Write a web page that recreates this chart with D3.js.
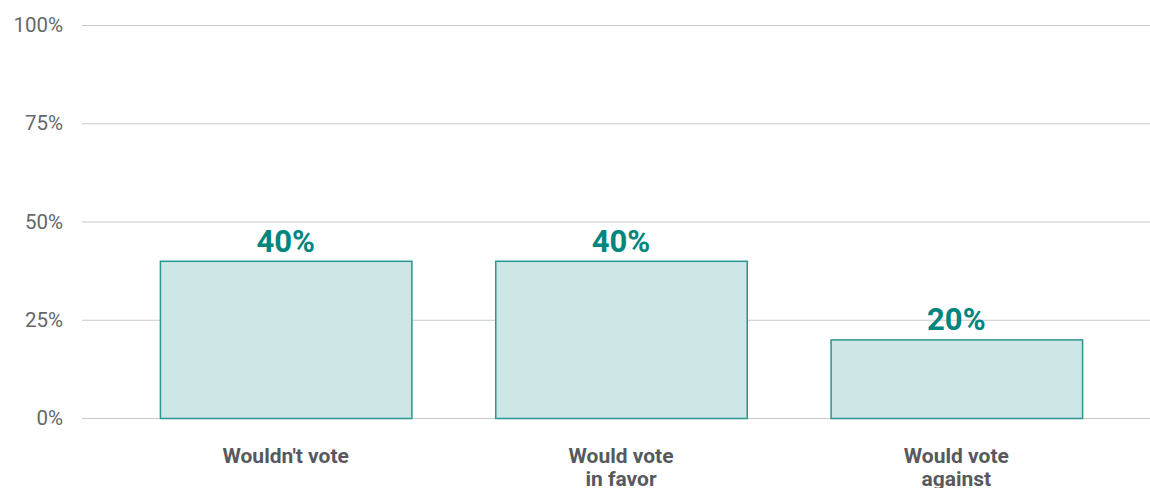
<!DOCTYPE html>
<html>
<head>
<meta charset="utf-8">
<script src="https://cdn.jsdelivr.net/npm/d3@7"></script>
<style>
  html, body { margin: 0; padding: 0; background: #fff; }
  svg { display: block; font-family: Roboto, "Open Sans", sans-serif; }
</style>
</head>
<body>
<svg id="chart" width="1150" height="488"></svg>
<script>
// Survey answers and their shares (percent)
const categories = [["Wouldn't vote"], ["Would vote", "in favor"], ["Would vote", "against"]];
const shares = [40, 40, 20];
const tickValues = [0, 25, 50, 75, 100];
const tickLabels = ["0%", "25%", "50%", "75%", "100%"];

const svg = d3.select("#chart");
const width = 1150;

const x = d3.scaleBand()
  .domain(d3.range(categories.length))
  .range([118, 1124])
  .paddingInner(0.25)
  .paddingOuter(0.125);

const y = d3.scaleLinear().domain([0, 100]).range([418, 25]);

// Horizontal gridlines with percentage labels
const yAxis = d3.axisLeft(y)
  .tickValues(tickValues)
  .tickFormat((d, i) => tickLabels[i])
  .tickSize(-(width - 82))
  .tickPadding(19);

const gy = svg.append("g")
  .attr("transform", "translate(82,0)")
  .call(yAxis);
gy.select(".domain").remove();
gy.selectAll(".tick line").attr("stroke", "#c9c9c9").attr("stroke-width", 1);
gy.selectAll(".tick text")
  .attr("fill", "#66676b")
  .attr("font-size", 20.5)
  .attr("font-family", "Roboto, sans-serif");

// Bars
svg.append("g").selectAll("rect")
  .data(shares)
  .join("rect")
  .attr("x", (d, i) => x(i) + 0.5)
  .attr("y", d => y(d) + 0.5)
  .attr("width", x.bandwidth())
  .attr("height", d => y(0) - y(d))
  .attr("fill", "#cde6e6")
  .attr("stroke", "#2b9591")
  .attr("stroke-width", 1.5);

// Value labels above bars
svg.append("g").selectAll("text")
  .data(shares)
  .join("text")
  .attr("x", (d, i) => x(i) + x.bandwidth() / 2)
  .attr("y", d => y(d) - 9)
  .attr("text-anchor", "middle")
  .attr("fill", "#00857f")
  .attr("font-size", 31)
  .attr("font-weight", 700)
  .text(d => d + "%");

// Category labels below the baseline
const cat = svg.append("g").selectAll("text")
  .data(categories)
  .join("text")
  .attr("x", (d, i) => x(i) + x.bandwidth() / 2)
  .attr("y", 463)
  .attr("text-anchor", "middle")
  .attr("fill", "#58595e")
  .attr("font-size", 21)
  .attr("font-weight", 700);
cat.selectAll("tspan")
  .data(d => d)
  .join("tspan")
  .attr("x", function() { return d3.select(this.parentNode).attr("x"); })
  .attr("dy", (d, i) => i === 0 ? 0 : 23)
  .text(d => d);
</script>
</body>
</html>
